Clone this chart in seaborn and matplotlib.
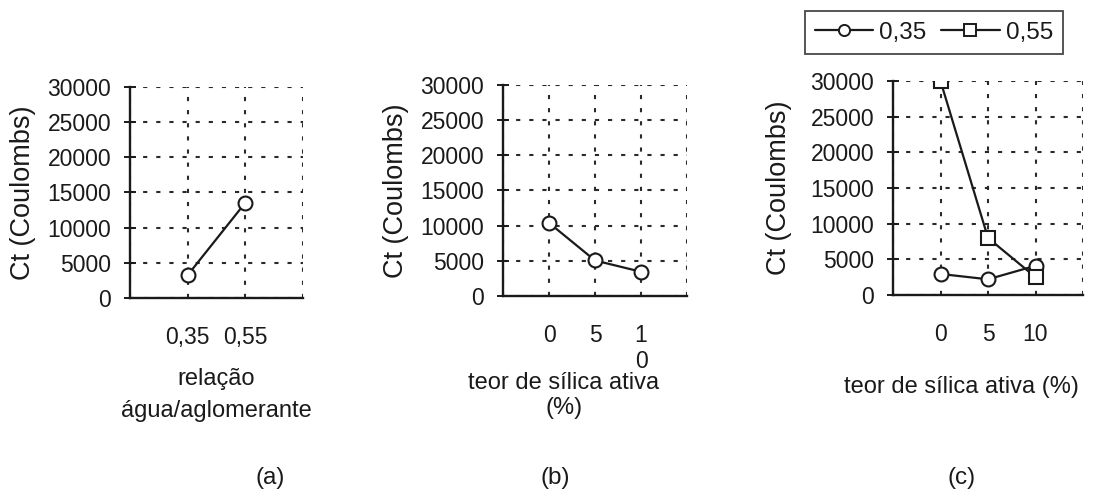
import matplotlib
matplotlib.use("Agg")
import matplotlib.pyplot as plt
from matplotlib.lines import Line2D
import pandas as pd
import seaborn as sns

# --- data -------------------------------------------------------------
wb_ratio = ["0,35", "0,55"]
ct_by_ratio = [3250, 13550]

silica = ["0", "5", "10"]
silica_ticklabels_b = ["0", "5", "1\n0"]
silica_ticklabels_c = ["0", "5", "10"]
ct_by_silica = [10400, 5050, 3450]

series_names = ["0,35", "0,55"]
ct_035 = [2950, 2200, 4100]
ct_055 = [30000, 8000, 2500]

y_ticks = [0, 5000, 10000, 15000, 20000, 25000, 30000]

# --- style ------------------------------------------------------------
sns.set_style("white")
INK = "#1a1a1a"
FS = 16.5
plt.rcParams["font.family"] = ["Liberation Sans", "DejaVu Sans"]
plt.rcParams["text.color"] = INK
plt.rcParams["axes.labelcolor"] = INK
plt.rcParams["xtick.color"] = INK
plt.rcParams["ytick.color"] = INK

fig = plt.figure(figsize=(11.09, 5.01), dpi=100)

H = 501.0
W = 1109.0


def px_axes(left, right, top, bottom):
    return fig.add_axes([left / W, 1 - bottom / H, (right - left) / W, (bottom - top) / H])


ax_a = px_axes(130, 303, 87, 298)
ax_b = px_axes(503, 687, 85, 296)
ax_c = px_axes(893, 1083, 81, 295)

line_kw = dict(markersize=10, markerfacecolor="white", markeredgewidth=1.5,
               linewidth=1.6, errorbar=None)

# (a) charge vs water/binder ratio
df_a = pd.DataFrame({"rel": wb_ratio, "ct": ct_by_ratio})
sns.pointplot(data=df_a, x="rel", y="ct", color=INK, marker="o", ax=ax_a, **line_kw)

# (b) charge vs silica fume content
df_b = pd.DataFrame({"sil": silica, "ct": ct_by_silica})
sns.pointplot(data=df_b, x="sil", y="ct", color=INK, marker="o", ax=ax_b, **line_kw)

# (c) charge vs silica fume content, by water/binder ratio
df_c = pd.DataFrame({
    "sil": silica * 2,
    "ct": ct_035 + ct_055,
    "rel": [series_names[0]] * 3 + [series_names[1]] * 3,
})
sns.pointplot(data=df_c, x="sil", y="ct", hue="rel", hue_order=series_names,
              palette=[INK, INK], markers=["o", "s"], linestyles=["-", "-"],
              ax=ax_c, **line_kw)
if ax_c.get_legend() is not None:
    ax_c.get_legend().remove()

grid_kw = dict(color="#2a2a2a", linestyle=(0, (2, 4.3)), linewidth=1.5)


def style_axis(ax, ticklabels, ylabelpad):
    n = len(ticklabels)
    ax.set_xlim(-1, n)
    ax.set_xticks(range(-1, n + 1))
    ax.set_xticklabels([""] + list(ticklabels) + [""])
    ax.set_ylim(0, 30000)
    ax.set_yticks(y_ticks)
    ax.set_yticklabels([str(v) for v in y_ticks])
    ax.set_axisbelow(True)
    ax.grid(True, axis="both", **grid_kw)
    for s in ("top", "right"):
        ax.spines[s].set_visible(False)
    for s in ("left", "bottom"):
        ax.spines[s].set_visible(True)
        ax.spines[s].set_color(INK)
        ax.spines[s].set_linewidth(1.7)
    ax.tick_params(axis="x", direction="inout", length=8, width=1.4,
                   pad=16, labelsize=FS)
    ax.tick_params(axis="y", direction="inout", length=9, width=1.4,
                   pad=9, labelsize=FS, left=True)
    ax.set_ylabel("Ct (Coulombs)", fontsize=FS + 3, labelpad=ylabelpad)


style_axis(ax_a, wb_ratio, 8)
style_axis(ax_b, silica_ticklabels_b, 8)
style_axis(ax_c, silica_ticklabels_c, 13)

ax_a.set_xlabel("relação\nágua/aglomerante", fontsize=FS + 0.5, linespacing=1.6)
ax_a.xaxis.set_label_coords(0.5, -0.33)
ax_b.set_xlabel("teor de sílica ativa\n(%)", fontsize=FS + 0.5, linespacing=1.2)
ax_b.xaxis.set_label_coords(0.33, -0.36)
ax_c.set_xlabel("teor de sílica ativa (%)", fontsize=FS + 0.5)
ax_c.xaxis.set_label_coords(0.36, -0.38)

# legend for panel (c)
handles = [
    Line2D([], [], color=INK, marker=m, markersize=8, markerfacecolor="white",
           markeredgewidth=1.4, linewidth=1.6)
    for m in ("o", "s")
]
leg = fig.legend(handles, series_names, loc="center",
                 bbox_to_anchor=(934 / W, 1 - 32.5 / H), ncol=2,
                 fontsize=FS + 1, frameon=True, fancybox=False,
                 handlelength=2.4, handletextpad=0.25, columnspacing=0.6,
                 borderpad=0.42, borderaxespad=0)
leg.get_frame().set_edgecolor(INK)
leg.get_frame().set_linewidth(1.3)

# panel letters
for x, lab in ((270, "(a)"), (555, "(b)"), (962, "(c)")):
    fig.text(x / W, 1 - 478 / H, lab, ha="center", va="center", fontsize=FS + 1)

fig.savefig("out.png", dpi=100, facecolor="white")
